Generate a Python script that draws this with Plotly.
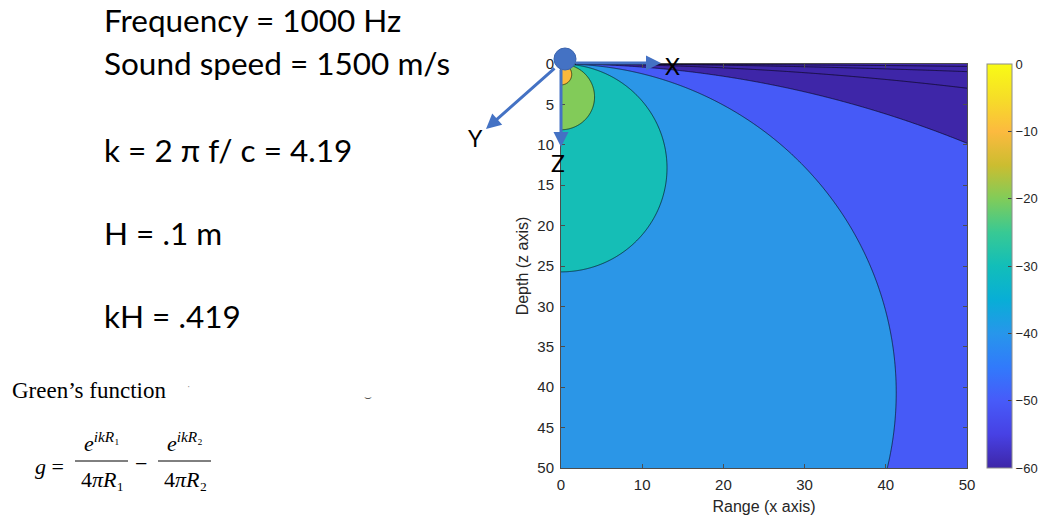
import numpy as np
import plotly.graph_objects as go

# ---- physical parameters shown on the slide ----
FREQ_HZ = 1000.0
SOUND_SPEED = 1500.0
SOURCE_DEPTH_H = 0.1

# ---- grid (range / depth in m) ----
range_x = np.concatenate([np.linspace(0, 4, 161)[:-1], np.linspace(4, 50, 461)])
depth_z = np.concatenate([np.linspace(0, 1, 101)[:-1], np.linspace(1, 4, 121)[:-1], np.linspace(4, 50, 461)])

# ---- contour levels, ticks ----
contour_levels = [-80, -70, -60, -50, -40, -30, -20, -10]
colorbar_ticks = [-60, -50, -40, -30, -20, -10, 0]
x_ticks = [0, 10, 20, 30, 40, 50]
z_ticks = [0, 5, 10, 15, 20, 25, 30, 35, 40, 45, 50]

# ---- Green's function g = e^{ikR1}/R1 - e^{ikR2}/R2 (4*pi normalised), in dB ----
k = 2 * np.pi * FREQ_HZ / SOUND_SPEED
X, Z = np.meshgrid(range_x, depth_z)
R1 = np.sqrt(X**2 + (Z - SOURCE_DEPTH_H) ** 2)
R2 = np.sqrt(X**2 + (Z + SOURCE_DEPTH_H) ** 2)
R1 = np.maximum(R1, 1e-6)
g = np.exp(1j * k * R1) / R1 - np.exp(1j * k * R2) / R2
level_db = 20 * np.log10(np.maximum(np.abs(g), 1e-12))
level_db = np.clip(level_db, -200, 40)

# ---- parula colormap ----
parula = [
    [0.000, "#3E26A8"], [0.083, "#4741E4"], [0.167, "#475BF9"], [0.250, "#317AFB"],
    [0.333, "#2796EB"], [0.417, "#08AED6"], [0.500, "#12BEB9"], [0.583, "#38C994"],
    [0.667, "#81CC59"], [0.750, "#CCBD30"], [0.833, "#FCBA3F"], [0.917, "#F6DE27"],
    [1.000, "#F9FB15"],
]
# band colours (MATLAB contourf: band coloured by its lower level, clim [-60, 0])
band_colors = ["#3E26A8", "#3E26A8", "#3E26A8", "#3E26A8", "#465AF7",
               "#2B96E7", "#15BEB6", "#82CB59", "#FBB93D"]
nb = len(band_colors)
band_scale = []
for i, c in enumerate(band_colors):
    lo = max(0.0, (i - 0.5) / (nb - 1))
    hi = min(1.0, (i + 0.5) / (nb - 1))
    band_scale.append([lo, c])
    band_scale.append([hi, c])

fig = go.Figure()
fig.add_trace(go.Contour(
    x=range_x, y=depth_z, z=level_db,
    contours=dict(start=contour_levels[0], end=contour_levels[-1], size=10, coloring="fill"),
    colorscale=band_scale, showscale=False,
    line=dict(color="black", width=0.6), hoverinfo="skip",
))
fig.add_trace(go.Scatter(
    x=[None], y=[None], mode="markers", hoverinfo="skip", showlegend=False,
    marker=dict(color=[0], colorscale=parula, cmin=-60, cmax=0, showscale=True,
                colorbar=dict(x=(987 - 561) / 406, xanchor="left", y=0, yanchor="bottom",
                              len=1, lenmode="fraction", thickness=25, xpad=0, ypad=0,
                              outlinecolor="#8c8c8c", outlinewidth=1,
                              tickvals=colorbar_ticks, ticks="inside", ticklen=4,
                              tickcolor="#444", tickfont=dict(family="Liberation Sans", size=13, color="#262626"))),
))

L, R, T, B = 561, 71, 64, 50
W, H = 1038, 518
pw, ph = W - L - R, H - T - B


def P(px, py):
    return (px - L) / pw, (H - B - py) / ph


ann = []


def text(px, py, s, size, family="Lato", anchor="left", color="black"):
    x, y = P(px, py)
    ann.append(dict(x=x, y=y, xref="paper", yref="paper", text=s, showarrow=False,
                    xanchor=anchor, yanchor="middle",
                    font=dict(family=family, size=size, color=color)))


def arrow(tx, ty, hx, hy):
    x, y = P(hx, hy)
    ann.append(dict(x=x, y=y, xref="paper", yref="paper", text="", showarrow=True,
                    ax=tx - hx, ay=ty - hy, arrowhead=2, arrowsize=1, arrowwidth=3,
                    arrowcolor="#4472C4", standoff=0, startstandoff=0))


# slide text
text(102, 20, "Frequency = 1000 Hz", 31.5)
text(102, 63, "Sound speed = 1500 m/s", 31.5)
text(102, 150, "k = 2 π f/ c = 4.19", 31.5)
text(102, 233, "H = .1 m", 31.5)
text(102, 316, "kH = .419", 31.5)
text(10, 390, "Green’s function", 23, family="Liberation Serif")
text(185, 386, "·", 10, family="Liberation Serif", color="#888")
text(368, 397, "⌣", 12, family="DejaVu Sans", anchor="center", color="#555")

# formula
SER = "Liberation Serif"
text(49, 466, "<i>g</i> =", 22, family=SER, anchor="center")
text(102, 442, "<i>e</i><sup><i>ikR</i>₁</sup>", 22, family=SER, anchor="center")
text(102, 479, "4<i>πR</i>₁", 22, family=SER, anchor="center")
text(141, 463, "−", 22, family=SER, anchor="center")
text(185, 442, "<i>e</i><sup><i>ikR</i>₂</sup>", 22, family=SER, anchor="center")
text(185, 479, "4<i>πR</i>₂", 22, family=SER, anchor="center")

# coordinate arrows
arrow(574, 63, 661, 63)
arrow(561, 68, 561, 147)
arrow(556, 67, 486, 129)
text(672, 66, "X", 23, anchor="center")
text(558, 163, "Z", 23, anchor="center")
text(475, 138, "Y", 23, anchor="center")

shapes = []
for (x0, x1, yy) in [(75, 128, 461), (158, 211, 461)]:
    a0, b0 = P(x0, yy)
    a1, _ = P(x1, yy)
    shapes.append(dict(type="line", xref="paper", yref="paper", x0=a0, x1=a1, y0=b0, y1=b0,
                       line=dict(color="black", width=1)))
c0 = P(554, 70)
c1 = P(576, 48)
shapes.append(dict(type="circle", xref="paper", yref="paper", x0=c0[0], y0=c0[1], x1=c1[0], y1=c1[1],
                   fillcolor="#4472C4", line=dict(color="#3B64AE", width=1), layer="above"))

axis_common = dict(showline=True, linecolor="#4d4d4d", linewidth=1, mirror="ticks",
                   ticks="inside", ticklen=4, tickcolor="#4d4d4d", showgrid=False, zeroline=False,
                   tickfont=dict(family="Liberation Sans", size=15, color="#262626"))

fig.update_layout(
    width=W, height=H, autosize=False,
    margin=dict(l=L, r=R, t=T, b=B, pad=0, autoexpand=False),
    paper_bgcolor="white", plot_bgcolor="white",
    showlegend=False,
    xaxis=dict(range=[0, 50], tickvals=x_ticks, ticklabelstandoff=3,
               title=dict(text="Range (x axis)", standoff=8,
                          font=dict(family="Liberation Sans", size=16, color="#262626")),
               **axis_common),
    yaxis=dict(range=[50, 0], tickvals=z_ticks, ticklabelstandoff=3,
               title=dict(text="Depth (z axis)", standoff=4,
                          font=dict(family="Liberation Sans", size=16, color="#262626")),
               **axis_common),
    annotations=ann, shapes=shapes,
)

fig.write_html("out.html", config={"displayModeBar": False},
               post_script="document.body.style.margin='0px';document.body.style.overflow='hidden';")
